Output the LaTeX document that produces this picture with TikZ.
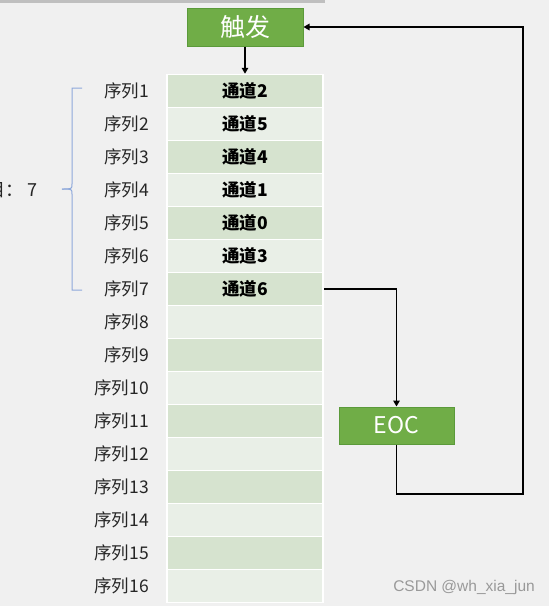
\documentclass[tikz,border=0pt]{standalone}
\usepackage{fontspec}
\setmainfont{Noto Sans CJK SC}
\newfontfamily\markfont{Liberation Sans}
\usetikzlibrary{arrows.meta}
\definecolor{bgcol}{HTML}{F0F0F0}
\definecolor{cellA}{HTML}{D6E3CF}
\definecolor{cellB}{HTML}{E9EFE7}
\definecolor{boxgreen}{HTML}{70AD47}
\definecolor{boxedge}{HTML}{5B9A3A}
\definecolor{bracecol}{HTML}{8EA9DB}
\tikzset{
	cell/.style={minimum width=156pt,minimum height=33pt,draw=white,line width=1.5pt,inner sep=0pt,font=\fontsize{17.5}{19}\selectfont\bfseries},
	seqlabel/.style={anchor=east,inner sep=0pt,font=\fontsize{17.5}{19}\selectfont,text=black!85},
	gbox/.style={draw=boxedge,line width=1pt,fill=boxgreen,text=white,inner sep=0pt},
	arr/.style={line width=1.8pt,-{Triangle[length=6pt,width=6.5pt]}},
}

\begin{document}
\begin{tikzpicture}[x=1pt,y=-1pt]
			% background and page size
			\fill[bgcol] (0,0) rectangle (549,606);
			\useasboundingbox (0,0) rectangle (549,606);
			\fill[black!25] (0,0) rectangle (325,2.5);

			% table rows: sequence label and channel
			\def\rowh{33}
			\foreach \i/\txt in {1/通道2,2/通道5,3/通道4,4/通道1,5/通道0,6/通道3,7/通道6,8/{},9/{},10/{},11/{},12/{},13/{},14/{},15/{},16/{}}{
				\ifodd\i \def\rowfill{cellA}\else \def\rowfill{cellB}\fi
				\node[cell,fill=\rowfill] (c\i) at (245,{91+\rowh*(\i-1)}) {\txt};
				\node[seqlabel] (s\i) at (149,{91+\rowh*(\i-1)}) {序列\i};
			}

			% trigger and end of conversion
			\node[gbox,minimum width=116pt,minimum height=38pt,font=\fontsize{25}{27}\selectfont] (trig) at (245,27) {触发};
			\node[gbox,minimum width=115pt,minimum height=37pt,font=\fontsize{23}{25}\selectfont] (eoc) at (396.5,425.5) {EOC};

			% arrows
			\coordinate (ret) at (523,494);
			\draw[arr] (trig.south) -- (c1.north);
			\draw[arr] (c7.east) -| (eoc.north);
			\draw[arr] (eoc.south) |- (ret) |- (trig.east);

			% bracket over the first seven rows
			\draw[bracecol,line width=1pt] (82,88) -- (72,88) -- (72,184) .. controls (72,189) .. (62,189);
			\draw[bracecol,line width=1pt] (62,189) .. controls (72,189) .. (72,194) -- (72,290) -- (82,290);
			\node[anchor=east,inner sep=0pt,font=\fontsize{18}{20}\selectfont,text=black!85] (len) at (38,190) {数目：\ 7};

			% watermark
			\node[anchor=east,inner sep=0pt,font=\markfont\fontsize{15.5}{17}\selectfont,text=black!40] (mark) at (535,587) {CSDN @wh\_xia\_jun};
\end{tikzpicture}
\end{document}
